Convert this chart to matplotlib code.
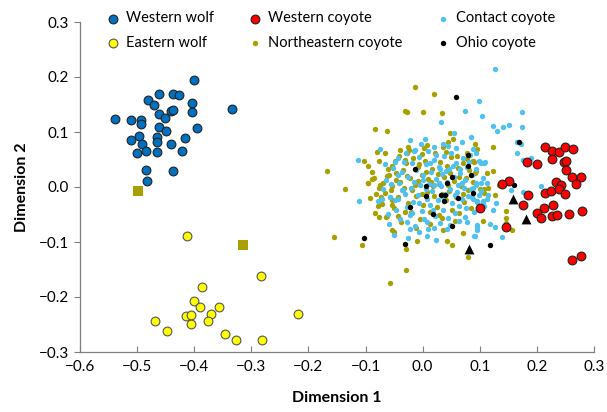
import matplotlib
matplotlib.use("Agg")
import matplotlib.pyplot as plt
from matplotlib.ticker import FuncFormatter, MultipleLocator

plt.rcParams["font.family"] = ["Lato", "DejaVu Sans"]

# --- data ---
western_wolf_x = [-0.401, -0.462, -0.438, -0.426, -0.481, -0.471, -0.404, -0.334, -0.539, -0.511,
                  -0.494, -0.493, -0.462, -0.441, -0.438, -0.451, -0.404, -0.462, -0.449, -0.395,
                  -0.511, -0.497, -0.492, -0.466, -0.465, -0.416, -0.441, -0.484, -0.500, -0.466,
                  -0.422, -0.485, -0.437, -0.483]
western_wolf_y = [0.194, 0.170, 0.169, 0.167, 0.158, 0.150, 0.153, 0.141, 0.124, 0.121,
                  0.121, 0.115, 0.133, 0.138, 0.140, 0.126, 0.136, 0.109, 0.101, 0.108,
                  0.085, 0.092, 0.079, 0.091, 0.082, 0.089, 0.078, 0.066, 0.061, 0.063,
                  0.065, 0.031, 0.029, 0.011]

eastern_wolf_x = [-0.412, -0.283, -0.386, -0.401, -0.390, -0.357, -0.371, -0.414, -0.405,
                  -0.376, -0.405, -0.469, -0.448, -0.219, -0.346, -0.326, -0.281]
eastern_wolf_y = [-0.089, -0.161, -0.182, -0.207, -0.218, -0.218, -0.230, -0.234, -0.233,
                  -0.243, -0.249, -0.243, -0.261, -0.230, -0.268, -0.278, -0.279]

western_coyote_x = [0.214, 0.227, 0.238, 0.249, 0.263, 0.226, 0.248, 0.251, 0.182, 0.201,
                    0.251, 0.262, 0.277, 0.233, 0.242, 0.269, 0.151, 0.139, 0.185, 0.214,
                    0.225, 0.238, 0.250, 0.175, 0.212, 0.228, 0.200, 0.207, 0.227, 0.235,
                    0.256, 0.279, 0.146, 0.262, 0.277, 0.100]
western_coyote_y = [0.073, 0.065, 0.063, 0.072, 0.070, 0.051, 0.046, 0.048, 0.045, 0.042,
                    0.031, 0.019, 0.019, 0.009, 0.004, 0.005, 0.011, 0.005, -0.015, -0.010,
                    -0.008, -0.004, -0.013, -0.033, -0.038, -0.033, -0.047, -0.056, -0.053, -0.051,
                    -0.049, -0.044, -0.073, -0.133, -0.125, -0.039]

northeastern_x = [-0.014, 0.020, -0.031, -0.027, 0.000, 0.033, -0.083, -0.062, -0.136, -0.103,
                  -0.095, -0.089, -0.096, -0.076, -0.039, -0.026, -0.028, -0.048, -0.031, -0.063,
                  -0.054, -0.066, -0.073, -0.058, -0.054, -0.078, 0.048, 0.053, -0.001, 0.008,
                  0.036, 0.044, 0.077, 0.092, 0.088, -0.155, -0.106, -0.058, -0.029, -0.030,
                  -0.010, 0.079, 0.043, 0.051, 0.071, -0.053, -0.050, -0.083, -0.076, -0.064,
                  -0.086, -0.095, 0.123, 0.095, 0.089, 0.094, 0.112, 0.124, 0.101, 0.108,
                  0.115, 0.127, 0.133, 0.108, 0.146, 0.146, 0.146, 0.157, 0.105, 0.090,
                  0.092, -0.167,
                  -0.088, -0.082, -0.077, -0.072, -0.069, -0.066, -0.063, -0.059, -0.056, -0.053,
                  -0.050, -0.047, -0.044, -0.041, -0.038, -0.035, -0.032, -0.029, -0.026, -0.023,
                  -0.020, -0.017, -0.014, -0.011, -0.008, -0.005, -0.002, 0.001, 0.004, 0.007,
                  0.010, 0.013, 0.016, 0.019, 0.022, 0.025, 0.028, 0.031, 0.034, 0.037,
                  0.040, 0.043, 0.046, 0.049, 0.052, 0.055, 0.058, 0.061, 0.064, 0.067,
                  0.070, 0.073, 0.076, 0.079, 0.082, 0.085, 0.088, -0.075, -0.061, -0.054,
                  -0.046, -0.039, -0.031, -0.024, -0.018, -0.009, -0.001, 0.006, 0.012, 0.018,
                  0.026, 0.033, 0.041, 0.048, 0.056, 0.063, 0.071, 0.078, 0.002, -0.012,
                  0.036, -0.043, 0.060, 0.015, -0.028, -0.006, 0.029, 0.045, -0.092, -0.080]
northeastern_y = [0.181, 0.169, 0.139, 0.137, 0.137, 0.135, 0.105, 0.101, -0.004, 0.047,
                  0.038, 0.015, 0.008, -0.001, 0.067, 0.073, 0.061, 0.048, 0.050, 0.020,
                  0.001, -0.010, -0.018, -0.018, -0.033, -0.034, 0.099, 0.087, 0.060, 0.076,
                  0.072, 0.082, 0.062, 0.078, 0.048, -0.091, -0.105, -0.174, -0.151, -0.113,
                  -0.098, -0.128, -0.098, -0.106, -0.084, -0.078, -0.082, -0.048, -0.054, -0.054,
                  0.016, 0.007, 0.072, 0.070, 0.048, 0.029, 0.025, 0.030, -0.004, -0.004,
                  -0.001, -0.015, 0.004, -0.011, -0.044, -0.057, -0.065, -0.078, -0.061, 0.046,
                  0.026, 0.030,
                  0.028, -0.013, 0.047, -0.031, 0.008, 0.061, -0.052, 0.022, -0.006, 0.039,
                  -0.038, 0.012, -0.019, 0.057, -0.064, 0.031, -0.001, 0.044, -0.029, 0.016,
                  -0.046, 0.052, 0.004, -0.017, 0.036, -0.058, 0.021, -0.032, 0.048, -0.009,
                  0.014, -0.045, 0.033, -0.016, 0.061, -0.036, 0.005, 0.046, -0.057, 0.019,
                  -0.024, 0.038, -0.007, 0.055, -0.041, 0.011, -0.019, 0.034, -0.048, 0.002,
                  0.043, -0.028, 0.017, -0.006, 0.031, -0.039, 0.009, 0.003, 0.033, -0.024,
                  0.026, 0.009, -0.045, 0.068, -0.005, 0.011, -0.012, 0.027, -0.068, 0.002,
                  0.024, -0.012, 0.064, 0.026, -0.062, 0.019, -0.013, 0.051, 0.071, -0.075,
                  -0.079, -0.052, 0.056, 0.009, 0.020, 0.041, -0.050, 0.003, -0.020, 0.063]

contact_x = [0.098, 0.074, 0.032, -0.023, 0.004, -0.075, -0.114, -0.049, -0.111, -0.015,
             0.055, 0.068, 0.085, 0.036, 0.019, -0.059, -0.050, -0.025, -0.006, 0.008,
             0.023, 0.042, 0.090, 0.096, -0.072, -0.079, -0.043, -0.034, -0.028, -0.022,
             0.007, 0.020, 0.077, 0.126, 0.104, 0.174, 0.124, 0.131, 0.141, 0.151,
             0.174, 0.165, 0.172, 0.166, 0.176, 0.190, 0.089, 0.094, 0.102, 0.108,
             0.103, 0.112, 0.146, 0.155, 0.207, 0.175, 0.114, 0.105, 0.099, 0.088,
             0.129, 0.124, 0.118, 0.126, 0.096, 0.095, 0.091, 0.139, 0.106, 0.113,
             0.109, 0.101, 0.093, 0.087, 0.095,
             -0.064, -0.058, -0.052, -0.047, -0.044, -0.041, -0.039, -0.036, -0.031, -0.029,
             -0.027, -0.025, -0.021, -0.019, -0.017, -0.015, -0.013, -0.011, -0.009, -0.007,
             -0.004, -0.002, 0.001, 0.003, 0.005, 0.007, 0.009, 0.011, 0.013, 0.015,
             0.017, 0.019, 0.021, 0.023, 0.026, 0.028, 0.030, 0.032, 0.034, 0.036,
             0.038, 0.040, 0.042, 0.044, 0.046, 0.048, 0.050, 0.052, 0.054, 0.056,
             0.058, 0.060, 0.062, 0.064, 0.066, 0.068, 0.070, 0.072, 0.074, 0.076,
             0.078, 0.080, 0.083, 0.085, 0.087, 0.090, 0.093, 0.096, 0.099, 0.102,
             0.105, 0.108, -0.070, -0.066, -0.061, -0.055, -0.049, -0.043, -0.037, -0.033,
             -0.023, -0.014, -0.006, 0.000, 0.006, 0.012, 0.018, 0.024, 0.029, 0.035,
             0.041, 0.047, 0.053, 0.059, 0.063, 0.069, 0.075, 0.081, 0.088, 0.094,
             0.010, -0.003, 0.045, 0.020, 0.031, 0.057, -0.018, 0.066]
contact_y = [0.156, 0.139, 0.119, 0.085, 0.088, 0.069, 0.049, 0.045, -0.025, 0.065,
             0.098, 0.081, 0.091, 0.079, 0.072, -0.067, -0.087, -0.092, -0.081, -0.089,
             -0.096, -0.076, -0.089, -0.072, -0.022, -0.025, -0.022, -0.005, -0.063, -0.077,
             -0.063, -0.074, -0.063, 0.214, 0.129, 0.136, 0.111, 0.102, 0.110, 0.113,
             0.109, 0.081, 0.079, 0.062, 0.050, 0.053, 0.069, 0.062, 0.044, 0.043,
             0.008, 0.008, 0.007, -0.005, 0.001, -0.009, -0.015, -0.027, -0.015, -0.001,
             -0.029, -0.042, -0.067, -0.073, -0.069, -0.078, -0.089, -0.091, -0.025, -0.022,
             0.045, 0.045, 0.007, -0.018, -0.027,
             0.012, -0.018, 0.034, -0.041, 0.052, 0.008, -0.058, 0.027, -0.012, 0.061,
             -0.036, 0.018, -0.002, 0.043, -0.027, 0.009, -0.071, 0.031, -0.014, 0.054,
             0.003, -0.043, 0.022, -0.058, 0.041, -0.021, 0.066, 0.006, -0.033, 0.028,
             -0.008, 0.049, -0.052, 0.014, -0.024, 0.037, -0.066, 0.001, 0.023, -0.041,
             0.057, -0.013, 0.009, -0.057, 0.033, -0.003, 0.062, -0.029, 0.018, -0.047,
             0.044, -0.009, 0.004, -0.062, 0.026, -0.022, 0.052, -0.002, 0.013, -0.038,
             0.036, -0.017, 0.058, -0.004, 0.021, -0.046, 0.032, -0.026, 0.047, -0.008,
             0.017, -0.035, -0.003, 0.041, -0.049, 0.006, -0.024, 0.021, -0.005, 0.046,
             -0.051, 0.068, -0.029, 0.012, -0.004, 0.044, -0.041, 0.059, 0.008, -0.018,
             0.029, -0.069, 0.039, 0.071, -0.034, 0.008, -0.055, 0.046, -0.021, 0.004,
             -0.076, 0.078, 0.075, 0.003, 0.032, -0.015, -0.048, 0.033]

ohio_x = [0.058, -0.013, 0.080, 0.084, 0.051, 0.043, 0.005, 0.005, 0.032, 0.039,
          0.038, 0.061, 0.079, 0.089, -0.022, 0.018, 0.052, -0.103, -0.031, 0.169,
          0.160, 0.118]
ohio_y = [0.163, 0.033, 0.058, 0.021, 0.019, 0.007, 0.002, -0.017, -0.015, -0.014,
          -0.025, -0.020, 0.039, -0.011, -0.036, -0.049, -0.070, -0.093, -0.103, 0.082,
          0.004, -0.105]

triangle_x = [0.158, 0.181, 0.081]
triangle_y = [-0.021, -0.059, -0.113]

square_x = [-0.499, -0.315]
square_y = [-0.007, -0.105]

OLIVE = "#A8A000"
LIGHT_BLUE = "#4FC1EE"

fig = plt.figure(figsize=(6.07, 4.12), dpi=100, facecolor="white")
ax = fig.add_axes([80 / 607, 60 / 412, 514 / 607, 330 / 412])

ax.scatter(northeastern_x, northeastern_y, s=15, c=OLIVE, linewidths=0, zorder=2,
           label="Northeastern coyote")
ax.scatter(contact_x, contact_y, s=15, c=LIGHT_BLUE, linewidths=0, zorder=3,
           label="Contact coyote")
ax.scatter(ohio_x, ohio_y, s=15, c="black", linewidths=0, zorder=4, label="Ohio coyote")
ax.scatter(triangle_x, triangle_y, s=50, c="black", marker="^", linewidths=0, zorder=4)
ax.scatter(square_x, square_y, s=42, c=OLIVE, marker="s", linewidths=0, zorder=4)
ax.scatter(western_wolf_x, western_wolf_y, s=40, c="#0070C0", edgecolors="#222222",
           linewidths=0.8, zorder=5, label="Western wolf")
ax.scatter(eastern_wolf_x, eastern_wolf_y, s=40, c="#FFFF00", edgecolors="#555555",
           linewidths=0.8, zorder=5, label="Eastern wolf")
ax.scatter(western_coyote_x, western_coyote_y, s=40, c="#FF0000", edgecolors="#222222",
           linewidths=0.8, zorder=5, label="Western coyote")

ax.set_xlim(-0.6, 0.3)
ax.set_ylim(-0.3, 0.3)
ax.xaxis.set_major_locator(MultipleLocator(0.1))
ax.yaxis.set_major_locator(MultipleLocator(0.1))


def fmt(v, pos):
    s = f"{v:.1f}"
    if s == "-0.0":
        s = "0.0"
    return s.replace("-", "\u2212")


ax.xaxis.set_major_formatter(FuncFormatter(fmt))
ax.yaxis.set_major_formatter(FuncFormatter(fmt))

for side in ["top", "right"]:
    ax.spines[side].set_visible(False)
for side in ["left", "bottom"]:
    ax.spines[side].set_color("#7f7f7f")
    ax.spines[side].set_linewidth(0.9)
ax.tick_params(axis="x", direction="in", length=4, color="#7f7f7f", labelsize=11, pad=6)
ax.tick_params(axis="y", direction="out", length=4, color="#7f7f7f", labelsize=11, pad=4)

ax.set_xlabel("Dimension 1", fontsize=11.5, fontweight="bold", labelpad=12)
ax.set_ylabel("Dimension 2", fontsize=11.5, fontweight="bold", labelpad=7)

handles, labels = ax.get_legend_handles_labels()
order = ["Western wolf", "Eastern wolf", "Western coyote", "Northeastern coyote",
         "Contact coyote", "Ohio coyote"]
hmap = dict(zip(labels, handles))
ax.legend([hmap[k] for k in order], order, loc="upper left", bbox_to_anchor=(0.035, 1.05),
          ncol=3, frameon=False, fontsize=10.5, handletextpad=0.3, columnspacing=2.2,
          labelspacing=0.75, handlelength=1.2, borderaxespad=0)

fig.savefig("out.png", dpi=100, facecolor="white")
